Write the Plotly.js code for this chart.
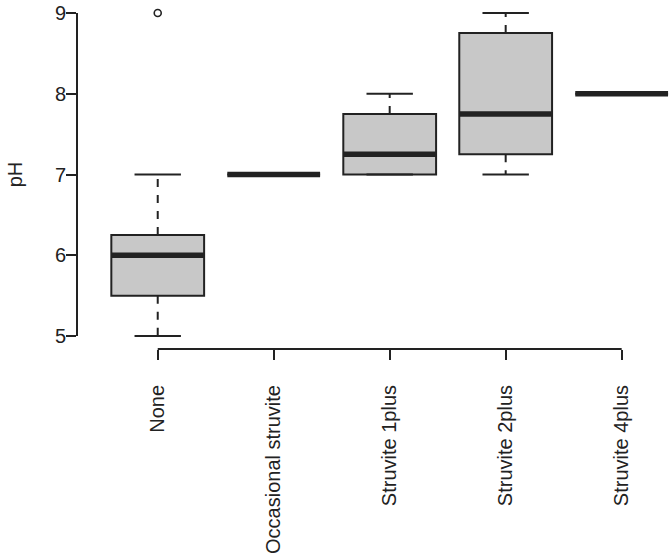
<!DOCTYPE html>
<html>
<head>
<meta charset="utf-8">
<script src="https://cdn.plot.ly/plotly-3.0.1.min.js"></script>
<style>
html,body{margin:0;padding:0;background:#fff;}
#chart{width:672px;height:558px;}
</style>
</head>
<body>
<div id="chart"></div>
<script>
// ---- data ----
var categories = ["None", "Occasional struvite", "Struvite 1plus", "Struvite 2plus", "Struvite 4plus"];
var lowerWhisker = [5, 7, 7, 7, 8];
var q1Values     = [5.5, 7, 7, 7.25, 8];
var medianValues = [6, 7, 7.25, 7.75, 8];
var q3Values     = [6.25, 7, 7.75, 8.75, 8];
var upperWhisker = [7, 7, 8, 9, 8];
var outlierCategory = ["None"];
var outlierValue = [9];
var yTicks = [5, 6, 7, 8, 9];

// ---- derived ----
var positions = categories.map(function (c, i) { return i + 1; });
var boxHalf = 0.4, capHalf = 0.2;
var ink = "#222222";

var whiskX = [], whiskY = [], capX = [], capY = [], medX = [], medY = [];
positions.forEach(function (p, i) {
  whiskX.push(p, p, null, p, p, null);
  whiskY.push(q3Values[i], upperWhisker[i], null, q1Values[i], lowerWhisker[i], null);
  capX.push(p - capHalf, p + capHalf, null, p - capHalf, p + capHalf, null);
  capY.push(upperWhisker[i], upperWhisker[i], null, lowerWhisker[i], lowerWhisker[i], null);
  medX.push(p - boxHalf, p + boxHalf, null);
  medY.push(medianValues[i], medianValues[i], null);
});
var outX = outlierCategory.map(function (c) { return positions[categories.indexOf(c)]; });

var traces = [
  {
    type: "box", x: positions,
    q1: q1Values, median: medianValues, q3: q3Values,
    lowerfence: q1Values, upperfence: q3Values,
    width: 2 * boxHalf, whiskerwidth: 0,
    fillcolor: "#c8c8c8", line: {color: ink, width: 2},
    boxpoints: false, hoverinfo: "skip", showlegend: false
  },
  {type: "scatter", mode: "lines", x: whiskX, y: whiskY,
   line: {color: ink, width: 2, dash: "8px,8px"}, hoverinfo: "skip", showlegend: false},
  {type: "scatter", mode: "lines", x: capX, y: capY,
   line: {color: ink, width: 2}, hoverinfo: "skip", showlegend: false},
  {type: "scatter", mode: "lines", x: medX, y: medY,
   line: {color: ink, width: 5.5}, hoverinfo: "skip", showlegend: false},
  {type: "scatter", mode: "markers", x: outX, y: outlierValue,
   marker: {symbol: "circle-open", size: 7, color: ink, line: {width: 1.6, color: ink}},
   hoverinfo: "skip", showlegend: false}
];

var font = {family: "Liberation Sans, Arial, sans-serif", size: 20, color: ink};

var layout = {
  width: 672, height: 558,
  margin: {l: 77, r: 0, t: 0, b: 209, pad: 0},
  paper_bgcolor: "#ffffff", plot_bgcolor: "#ffffff",
  font: font,
  showlegend: false,
  xaxis: {
    range: [0.304, 5.434],
    tickvals: positions, ticktext: categories,
    tickangle: -90,
    ticks: "outside", ticklen: 10, tickwidth: 2, tickcolor: ink,
    ticklabelstandoff: 17,
    showline: false, showgrid: false, zeroline: false,
    tickfont: font, automargin: false
  },
  yaxis: {
    range: [4.84, 9.16],
    tickvals: yTicks, ticktext: yTicks.map(String),
    ticks: "outside", ticklen: 10, tickwidth: 2, tickcolor: ink,
    ticklabelstandoff: -4,
    showline: false, showgrid: false, zeroline: false,
    tickfont: font, automargin: false,
    title: {text: "pH", font: font, standoff: 26}
  },
  shapes: [
    {type: "line", xref: "paper", yref: "y", x0: 0, x1: 0,
     y0: Math.min.apply(null, yTicks), y1: Math.max.apply(null, yTicks),
     line: {color: ink, width: 2}},
    {type: "line", xref: "x", yref: "paper", y0: 0, y1: 0,
     x0: positions[0], x1: positions[positions.length - 1],
     line: {color: ink, width: 2}}
  ]
};

Plotly.newPlot("chart", traces, layout, {staticPlot: true, displayModeBar: false});
</script>
</body>
</html>
